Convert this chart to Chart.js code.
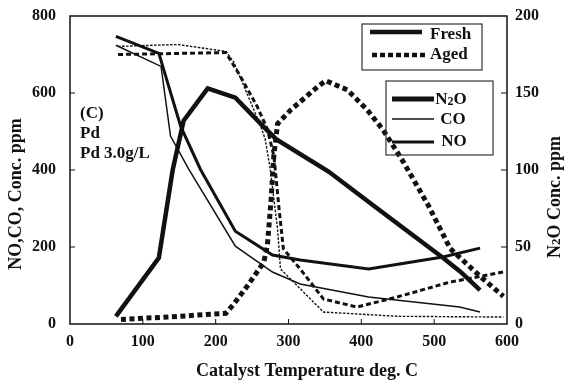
<!DOCTYPE html>
<html>
<head>
<meta charset="utf-8">
<script src="https://cdn.jsdelivr.net/npm/chart.js@4.4.1/dist/chart.umd.min.js"></script>
<style>
  body { margin: 0; background: #fff; }
  #wrap { width: 564px; height: 385px; }
</style>
</head>
<body>
<div id="wrap"><canvas id="myChart" width="564" height="385"></canvas></div>
<script>
const FONT = '"Liberation Serif", "Times New Roman", serif';

// Fresh catalyst (temperature deg. C / ppm)
const freshNoTemp = [63, 122, 152, 179, 227, 278, 316, 410, 512, 563];
const freshNo     = [747, 703, 513, 402, 241, 179, 166, 143, 174, 197];
const freshCoTemp = [63, 125, 138, 163, 227, 278, 316, 410, 535, 563];
const freshCo     = [724, 669, 488, 402, 202, 135, 104, 70, 44, 31];
const freshN2oTemp = [63, 122, 141, 156, 189, 227, 266, 283, 355, 422, 512, 536, 563];
const freshN2o     = [5, 43, 100, 132, 153, 147, 128, 120, 99, 75, 43, 34, 22];

// Aged catalyst
const agedNoTemp = [66, 214, 234, 257, 271, 280, 287, 293, 316, 348, 394, 449, 522, 595];
const agedNo     = [700, 705, 643, 565, 506, 436, 300, 195, 143, 65, 44, 70, 109, 135];
const agedCoTemp = [66, 148, 214, 225, 262, 268, 275, 285, 289, 348, 450, 595];
const agedCo     = [721, 726, 708, 680, 513, 480, 402, 246, 143, 31, 20, 18];
const agedN2oTemp = [70, 134, 214, 225, 244, 266, 271, 276, 280, 285, 303, 340, 351, 381, 408, 430, 458, 492, 522, 563, 595];
const agedN2o     = [3, 4.5, 7, 13, 25, 40, 51, 80, 110, 130, 139, 154, 158, 152, 139, 126, 105, 77, 49, 31, 18];

const xTicks = [0, 100, 200, 300, 400, 500, 600];
const yTicks = [0, 200, 400, 600, 800];
const y2Ticks = [0, 50, 100, 150, 200];

function pts(t, v) {
    return t.map((x, i) => ({ x: x, y: v[i] }));
}

function richText(ctx, parts, x, y, align) {
    let w = 0;
    parts.forEach(p => { ctx.font = 'bold ' + p[1] + 'px ' + FONT; w += ctx.measureText(p[0]).width; });
    let cx = align === 'center' ? x - w / 2 : x;
    ctx.textAlign = 'left';
    parts.forEach(p => {
        ctx.font = 'bold ' + p[1] + 'px ' + FONT;
        ctx.fillText(p[0], cx, y + (p[2] || 0));
        cx += ctx.measureText(p[0]).width;
    });
}

const decor = {
    id: 'decor',
    afterDraw(chart) {
        const ctx = chart.ctx;
        const a = chart.chartArea;
        const sx = chart.scales.x, sy = chart.scales.y, sy2 = chart.scales.y2;
        ctx.save();
        ctx.strokeStyle = '#111';
        ctx.fillStyle = '#111';

        // frame
        ctx.lineWidth = 1.5;
        ctx.strokeRect(a.left, a.top, a.right - a.left, a.bottom - a.top);

        // inward ticks
        ctx.lineWidth = 1;
        ctx.beginPath();
        yTicks.slice(1, -1).forEach(v => {
            const py = sy.getPixelForValue(v);
            ctx.moveTo(a.left, py); ctx.lineTo(a.left + 5, py);
        });
        y2Ticks.slice(1, -1).forEach(v => {
            const py = sy2.getPixelForValue(v);
            ctx.moveTo(a.right, py); ctx.lineTo(a.right - 6, py);
        });
        xTicks.slice(1, -1).forEach(v => {
            const px = sx.getPixelForValue(v);
            ctx.moveTo(px, a.bottom); ctx.lineTo(px, a.bottom - 5);
        });
        ctx.stroke();

        // axis titles
        ctx.textBaseline = 'middle';
        ctx.textAlign = 'center';
        ctx.font = 'bold 18px ' + FONT;
        ctx.fillText('Catalyst Temperature deg. C', 307, 371);

        ctx.save();
        ctx.translate(16, 194);
        ctx.rotate(-Math.PI / 2);
        ctx.fillText('NO,CO, Conc. ppm', 0, 0);
        ctx.restore();

        ctx.save();
        ctx.translate(555, 197);
        ctx.rotate(-Math.PI / 2);
        richText(ctx, [['N', 18], ['2', 13, 2], ['O Conc. ppm', 18]], 0, 0, 'center');
        ctx.restore();

        // sample note
        ctx.textBaseline = 'alphabetic';
        ctx.textAlign = 'left';
        ctx.font = 'bold 17px ' + FONT;
        ctx.fillText('(C)', 80, 118);
        ctx.fillText('Pd', 80, 138);
        ctx.fillText('Pd 3.0g/L', 80, 158);

        // legend: condition
        ctx.lineWidth = 1.2;
        ctx.strokeStyle = '#333';
        ctx.strokeRect(362, 24, 120, 46);
        ctx.strokeStyle = '#111';
        ctx.lineWidth = 4.5;
        ctx.beginPath(); ctx.moveTo(370, 32); ctx.lineTo(422, 32); ctx.stroke();
        ctx.setLineDash([5, 3]);
        ctx.beginPath(); ctx.moveTo(372, 55); ctx.lineTo(425, 55); ctx.stroke();
        ctx.setLineDash([]);
        ctx.textBaseline = 'middle';
        ctx.font = 'bold 17px ' + FONT;
        ctx.fillText('Fresh', 430, 35);
        ctx.fillText('Aged', 430, 55);

        // legend: gas
        ctx.lineWidth = 1.2;
        ctx.strokeStyle = '#333';
        ctx.strokeRect(386, 81, 107, 74);
        ctx.strokeStyle = '#111';
        ctx.lineWidth = 5;
        ctx.beginPath(); ctx.moveTo(392, 99); ctx.lineTo(434, 99); ctx.stroke();
        ctx.lineWidth = 1.6;
        ctx.beginPath(); ctx.moveTo(392, 119); ctx.lineTo(434, 119); ctx.stroke();
        ctx.lineWidth = 3;
        ctx.beginPath(); ctx.moveTo(392, 142); ctx.lineTo(434, 142); ctx.stroke();
        richText(ctx, [['N', 17], ['2', 12, 2], ['O', 17]], 451, 100, 'center');
        ctx.textAlign = 'center';
        ctx.font = 'bold 17px ' + FONT;
        ctx.fillText('CO', 453, 120);
        ctx.fillText('NO', 454, 142);

        ctx.restore();
    }
};

function fixY(width) {
    return s => { s.width = width; s.paddingTop = 0; s.paddingBottom = 0; };
}

const ctx = document.getElementById('myChart').getContext('2d');
const myChart = new Chart(ctx, {
    type: 'line',
    data: {
        datasets: [
            { data: pts(freshNoTemp, freshNo), yAxisID: 'y', borderWidth: 3 },
            { data: pts(freshCoTemp, freshCo), yAxisID: 'y', borderWidth: 1.5 },
            { data: pts(freshN2oTemp, freshN2o), yAxisID: 'y2', borderWidth: 4.5 },
            { data: pts(agedNoTemp, agedNo), yAxisID: 'y', borderWidth: 3, borderDash: [5, 3] },
            { data: pts(agedCoTemp, agedCo), yAxisID: 'y', borderWidth: 1.4, borderDash: [2.5, 1.5] },
            { data: pts(agedN2oTemp, agedN2o), yAxisID: 'y2', borderWidth: 5, borderDash: [5, 3.5] }
        ].map(d => Object.assign({
            borderColor: '#111',
            pointRadius: 0,
            tension: 0,
            fill: false
        }, d))
    },
    options: {
        responsive: false,
        animation: false,
        layout: { padding: { top: 16, left: 0, right: 0, bottom: 0 } },
        plugins: { legend: { display: false }, tooltip: { enabled: false } },
        scales: {
            x: {
                type: 'linear',
                min: 0, max: 600,
                afterBuildTicks: s => { s.ticks = xTicks.map(v => ({ value: v })); },
                afterFit: s => { s.height = 61; s.paddingLeft = 0; s.paddingRight = 0; },
                grid: { display: false, drawTicks: false },
                border: { display: false },
                ticks: { padding: 8, color: '#111', font: { family: FONT, size: 16, weight: 'bold' } }
            },
            y: {
                position: 'left',
                min: 0, max: 800,
                afterBuildTicks: s => { s.ticks = yTicks.map(v => ({ value: v })); },
                afterFit: fixY(70),
                grid: { display: false, drawTicks: false },
                border: { display: false },
                ticks: { padding: 14, color: '#111', font: { family: FONT, size: 16, weight: 'bold' } }
            },
            y2: {
                position: 'right',
                min: 0, max: 200,
                afterBuildTicks: s => { s.ticks = y2Ticks.map(v => ({ value: v })); },
                afterFit: fixY(57),
                grid: { display: false, drawTicks: false },
                border: { display: false },
                ticks: { padding: 8, color: '#111', font: { family: FONT, size: 16, weight: 'bold' } }
            }
        }
    },
    plugins: [decor]
});
</script>
</body>
</html>
